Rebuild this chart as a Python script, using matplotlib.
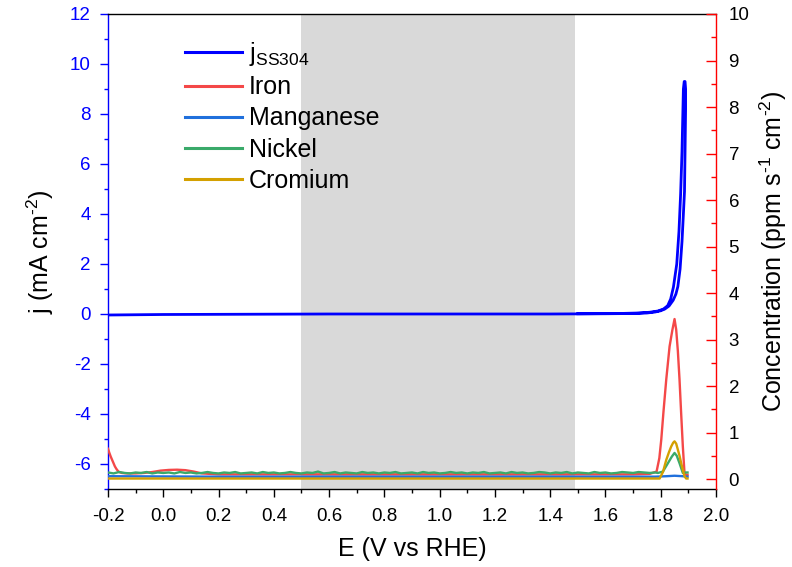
import numpy as np
import matplotlib
matplotlib.use("Agg")
import matplotlib.pyplot as plt
from matplotlib.ticker import MultipleLocator

plt.rcParams['font.family'] = ['Liberation Sans', 'DejaVu Sans']
plt.rcParams['mathtext.fontset'] = 'custom'
plt.rcParams['mathtext.rm'] = 'Liberation Sans'
plt.rcParams['mathtext.it'] = 'Liberation Sans'
plt.rcParams['mathtext.default'] = 'regular'
plt.rcParams['axes.unicode_minus'] = False

# ---- data ----
shade_range = [0.5, 1.49]

j_E = [-0.200, 0.000, 0.300, 0.600, 1.000, 1.400, 1.600, 1.700, 1.750, 1.780,
       1.800, 1.815, 1.830, 1.845, 1.855, 1.862, 1.870, 1.877, 1.882, 1.886,
       1.888, 1.890, 1.890, 1.888, 1.885, 1.882, 1.880, 1.877, 1.872, 1.866,
       1.858, 1.846, 1.836, 1.825, 1.810, 1.790, 1.760, 1.720, 1.650, 1.500]
j_val = [-0.04, -0.02, -0.01, 0.00, 0.00, 0.00, 0.01, 0.02, 0.04, 0.08,
         0.13, 0.20, 0.32, 0.55, 0.80, 1.10, 1.80, 2.90, 4.00, 4.90,
         6.50, 8.20, 9.00, 9.30, 9.30, 9.00, 8.00, 6.50, 4.80, 3.30,
         2.00, 1.08, 0.60, 0.33, 0.20, 0.12, 0.07, 0.04, 0.02, 0.01]

iron_E = [-0.200, -0.195, -0.190, -0.185, -0.180, -0.175, -0.170, -0.165, -0.160,
          -0.150, -0.130, -0.100, -0.070, -0.040, -0.010, 0.020, 0.050, 0.080, 0.110,
          0.140, 0.170, 0.200,
          0.3, 0.4, 0.5, 0.6, 0.7, 0.8, 0.9, 1.0, 1.1, 1.2, 1.3, 1.4, 1.5, 1.6, 1.7,
          1.760, 1.785, 1.795, 1.802, 1.810, 1.820, 1.832, 1.842, 1.850,
          1.856, 1.862, 1.868, 1.874, 1.880, 1.886, 1.892, 1.897]
iron_c = [0.65, 0.56, 0.48, 0.41, 0.34, 0.27, 0.22, 0.18, 0.15,
          0.13, 0.12, 0.12, 0.13, 0.15, 0.18, 0.195, 0.20, 0.19, 0.16,
          0.12, 0.11, 0.10,
          0.10, 0.10, 0.10, 0.10, 0.10, 0.10, 0.10, 0.10, 0.10, 0.10, 0.10, 0.10, 0.10, 0.10, 0.10,
          0.11, 0.16, 0.45, 0.85, 1.45, 2.14, 2.85, 3.20, 3.44,
          3.21, 2.75, 2.14, 1.40, 0.70, 0.13, 0.09, 0.09]

mn_E = [-0.200, 0.200, 0.600, 1.000, 1.400, 1.780, 1.820, 1.850, 1.880, 1.897]
mn_c = [0.06, 0.05, 0.05, 0.05, 0.05, 0.05, 0.06, 0.07, 0.06, 0.05]

ni_base = [0.14, 0.12, 0.15, 0.13, 0.12, 0.14, 0.13, 0.15, 0.12, 0.14,
           0.13, 0.14, 0.12, 0.15, 0.13, 0.14, 0.12, 0.13, 0.15, 0.13,
           0.12, 0.14, 0.13, 0.15, 0.12, 0.13, 0.14, 0.12, 0.15, 0.13,
           0.14, 0.12, 0.13, 0.15, 0.13, 0.12, 0.14, 0.13, 0.16, 0.12,
           0.13, 0.15, 0.12, 0.14, 0.13, 0.12, 0.15, 0.13, 0.14, 0.12,
           0.14, 0.13, 0.15, 0.12, 0.13, 0.14, 0.12, 0.15, 0.13, 0.14,
           0.12, 0.13, 0.15, 0.13, 0.14, 0.12, 0.14, 0.13, 0.15, 0.12,
           0.13, 0.14, 0.12, 0.15, 0.13, 0.14, 0.12, 0.13, 0.15, 0.14,
           0.12, 0.14, 0.13, 0.15, 0.12, 0.14, 0.13, 0.12, 0.15, 0.13,
           0.14, 0.12, 0.13, 0.15, 0.14, 0.13, 0.15, 0.14, 0.13, 0.14]
ni_peak_E = [1.790, 1.808, 1.826, 1.840, 1.850, 1.858, 1.868, 1.880, 1.890, 1.897]
ni_peak_c = [0.13, 0.16, 0.34, 0.48, 0.56, 0.50, 0.34, 0.13, 0.14, 0.14]

cr_E = [-0.200, 0.500, 1.000, 1.500, 1.796, 1.808, 1.820, 1.830, 1.838, 1.845,
        1.850, 1.856, 1.862, 1.868, 1.874, 1.880, 1.886, 1.892, 1.897]
cr_c = [0.01, 0.01, 0.01, 0.01, 0.01, 0.15, 0.41, 0.58, 0.70, 0.78,
        0.81, 0.76, 0.63, 0.50, 0.34, 0.20, 0.06, 0.01, 0.01]

x_ticks = [-0.2, 0.0, 0.2, 0.4, 0.6, 0.8, 1.0, 1.2, 1.4, 1.6, 1.8, 2.0]

ni_E = list(np.linspace(-0.2, 1.78, len(ni_base))) + ni_peak_E
ni_c = ni_base + ni_peak_c

# ---- figure ----
fig = plt.figure(figsize=(7.92, 5.67), dpi=100)
ax1 = fig.add_axes([108/792, 1 - 489/567, (716 - 108)/792, (489 - 14)/567])
ax2 = ax1.twinx()

ax1.axvspan(shade_range[0], shade_range[1], color='#d9d9d9', lw=0, zorder=0)
l_j, = ax1.plot(j_E, j_val, color='#0000ff', lw=2.0, label='j$_{SS304}$', zorder=3)

l_fe, = ax2.plot(iron_E, iron_c, color='#f44848', lw=1.7, label='Iron')
l_mn, = ax2.plot(mn_E, mn_c, color='#2070dc', lw=1.7, label='Manganese')
l_ni, = ax2.plot(ni_E, ni_c, color='#3aaa6a', lw=1.7, label='Nickel')
l_cr, = ax2.plot(cr_E, cr_c, color='#d4a000', lw=1.7, label='Cromium')

ax1.set_xlim(-0.2, 2.0)
ax1.set_ylim(-7, 12)
ax2.set_ylim(-0.215, 10)

ax1.set_xticks(x_ticks)
ax1.set_xticklabels(['%.1f' % v for v in x_ticks])
ax1.xaxis.set_minor_locator(MultipleLocator(0.1))
ax1.yaxis.set_major_locator(MultipleLocator(2))
ax1.yaxis.set_minor_locator(MultipleLocator(1))
ax2.yaxis.set_major_locator(MultipleLocator(1))
ax2.yaxis.set_minor_locator(MultipleLocator(0.5))

blue = '#0000ff'
red = '#ff0000'
ax1.spines['left'].set_color(blue)
ax1.spines['right'].set_visible(False)
ax1.spines['top'].set_color('black')
ax1.spines['bottom'].set_color('black')
for s in ['left', 'top', 'bottom']:
    ax2.spines[s].set_visible(False)
ax2.spines['right'].set_color(red)
for a in (ax1, ax2):
    for s in a.spines.values():
        s.set_linewidth(1.0)

ax1.tick_params(axis='y', which='both', direction='out', colors=blue, labelsize=13.5, pad=6.5)
ax1.tick_params(axis='y', which='major', length=6, width=1)
ax1.tick_params(axis='y', which='minor', length=3, width=1)
ax1.tick_params(axis='x', which='both', direction='out', colors='black', labelsize=13.5, pad=8)
ax1.tick_params(axis='x', which='major', length=6, width=1)
ax1.tick_params(axis='x', which='minor', length=3, width=1)
ax2.tick_params(axis='y', which='both', direction='in', color=red, labelcolor='black', labelsize=13.5, pad=9)
ax2.tick_params(axis='y', which='major', length=7, width=1)
ax2.tick_params(axis='y', which='minor', length=3.5, width=1)

ax1.set_xlabel('E (V vs RHE)', fontsize=18, labelpad=8)
ax1.set_ylabel(r'j (mA cm$^{\text{-}2}$)', fontsize=18, labelpad=10)
ax2.set_ylabel(r'Concentration (ppm s$^{\text{-}1}$ cm$^{\text{-}2}$)', fontsize=18, labelpad=6)

leg = ax2.legend(handles=[l_j, l_fe, l_mn, l_ni, l_cr], loc='upper left',
                 bbox_to_anchor=(185/792, 1 - 40/567), bbox_transform=fig.transFigure,
                 frameon=False, fontsize=18, handlelength=2.28, handletextpad=0.28,
                 labelspacing=0.29, borderpad=0, borderaxespad=0)
for h in leg.legend_handles:
    h.set_linewidth(2.2)

fig.savefig('out.png', dpi=100)
